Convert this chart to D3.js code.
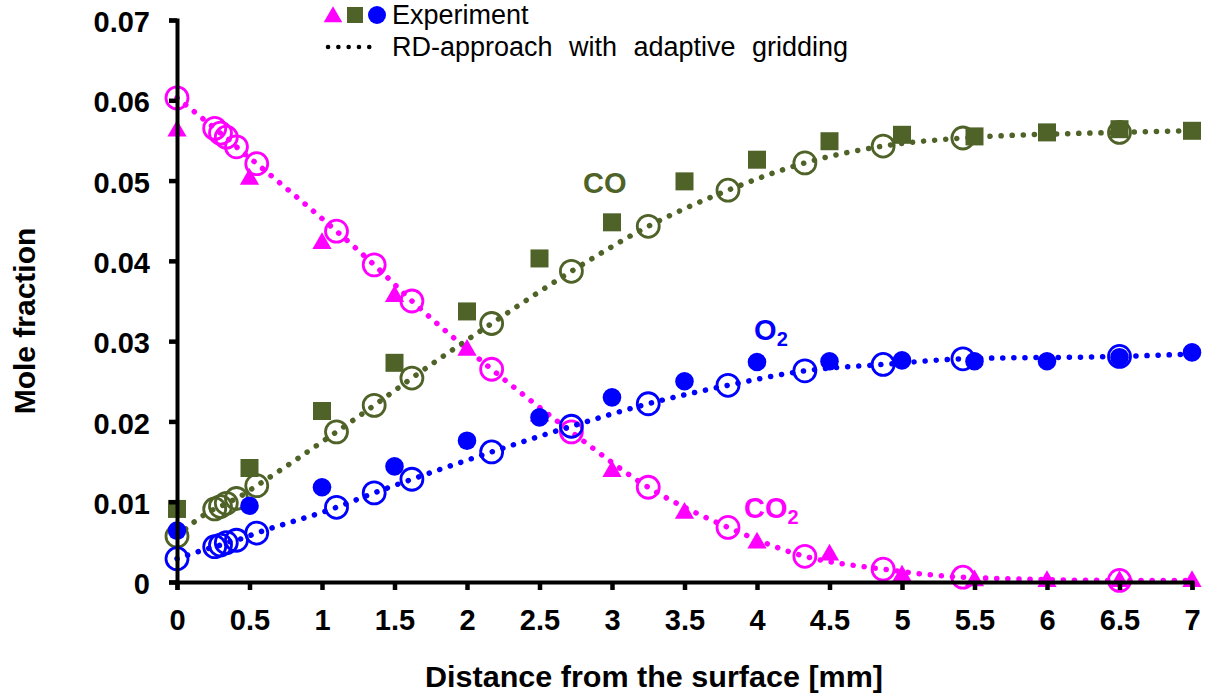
<!DOCTYPE html>
<html><head><meta charset="utf-8">
<script src="https://cdn.jsdelivr.net/npm/d3@7"></script>
<style>body{margin:0;background:#fff}svg{display:block}</style>
</head><body>
<script>
// ---- data ----
const expX = [0,0.5,1,1.5,2,2.5,3,3.5,4,4.5,5,5.5,6,6.5,7];
const expCO2 = [0.0563,0.0503,0.0423,0.0357,0.0290,0.0208,0.0139,0.0087,0.0050,0.0035,0.0009,0.0003,0.0002,0.0002,0.0002];
const expCO  = [0.0091,0.0142,0.0213,0.0273,0.0337,0.0403,0.0448,0.0499,0.0526,0.0549,0.0557,0.0555,0.0560,0.0564,0.0562];
const expO2  = [0.0064,0.0095,0.0118,0.0144,0.0176,0.0205,0.0230,0.0250,0.0274,0.0275,0.0276,0.0275,0.0275,0.0280,0.0286];

const modX   = [0,0.26,0.30,0.34,0.41,0.55,1.10,1.36,1.62,2.17,2.72,3.25,3.80,4.33,4.87,5.42,6.50];
const modCO2 = [0.0603,0.0565,0.0559,0.0554,0.0542,0.0521,0.0437,0.0395,0.0350,0.0265,0.0187,0.0118,0.0068,0.0032,0.0016,0.0006,0.0002];
const modCO  = [0.0057,0.0091,0.0094,0.0098,0.0104,0.0120,0.0187,0.0220,0.0254,0.0322,0.0387,0.0443,0.0488,0.0522,0.0543,0.0553,0.0560];
const modO2  = [0.0029,0.0044,0.0046,0.0049,0.0052,0.0061,0.0093,0.0111,0.0128,0.0162,0.0194,0.0222,0.0245,0.0263,0.0271,0.0278,0.0281];
// model curve end at x = 7
const endX = 7;
const endCO2 = 0.0002, endCO = 0.0562, endO2 = 0.0284;

const xTicks = [0,0.5,1,1.5,2,2.5,3,3.5,4,4.5,5,5.5,6,6.5,7];
const xTickLabels = ["0","0.5","1","1.5","2","2.5","3","3.5","4","4.5","5","5.5","6","6.5","7"];
const yTicks = [0,0.01,0.02,0.03,0.04,0.05,0.06,0.07];
const yTickLabels = ["0","0.01","0.02","0.03","0.04","0.05","0.06","0.07"];

const colCO2 = "#FF00FF", colCO = "#4F6228", colO2 = "#0000FF";

// ---- chart ----
const W = 1209, H = 700;
const svg = d3.select("body").append("svg").attr("width", W).attr("height", H);
const x = d3.scaleLinear().domain([0,7]).range([177,1192]);
const y = d3.scaleLinear().domain([0,0.07]).range([582,20]);
const font = "'Liberation Sans', Arial, sans-serif";

// model dotted lines
const line = d3.line().x(d=>x(d[0])).y(d=>y(d[1])).curve(d3.curveMonotoneX);
function modelSeries(vals, end, col){
  const pts = modX.map((v,i)=>[v, vals[i]]).concat([[endX, end]]);
  svg.append("path").attr("d", line(pts)).attr("fill","none").attr("stroke",col)
    .attr("stroke-width",5.5).attr("stroke-linecap","round").attr("stroke-dasharray","0.1 11");
  svg.append("g").selectAll("circle").data(modX.map((v,i)=>[v, vals[i]])).join("circle")
    .attr("cx",d=>x(d[0])).attr("cy",d=>y(d[1])).attr("r",11)
    .attr("fill","none").attr("stroke",col).attr("stroke-width",2.8);
}
modelSeries(modCO2, endCO2, colCO2);
modelSeries(modCO, endCO, colCO);
modelSeries(modO2, endO2, colO2);

// experiments
const tri = d3.symbol().type(d3.symbolTriangle).size(160);
svg.append("g").selectAll("path").data(expX.map((v,i)=>[v, expCO2[i]])).join("path")
  .attr("d", tri).attr("transform", d=>`translate(${x(d[0])},${y(d[1])+1})`).attr("fill", colCO2);
svg.append("g").selectAll("rect").data(expX.map((v,i)=>[v, expCO[i]])).join("rect")
  .attr("x", d=>x(d[0])-9).attr("y", d=>y(d[1])-9).attr("width",18).attr("height",18).attr("fill", colCO);
svg.append("g").selectAll("circle").data(expX.map((v,i)=>[v, expO2[i]])).join("circle")
  .attr("cx", d=>x(d[0])).attr("cy", d=>y(d[1])).attr("r",9.3).attr("fill", colO2);

// axes
const xAxis = d3.axisBottom(x).tickValues(xTicks).tickFormat((d,i)=>xTickLabels[i]).tickSize(8).tickPadding(19);
const yAxis = d3.axisLeft(y).tickValues(yTicks).tickFormat((d,i)=>yTickLabels[i]).tickSize(8).tickPadding(19);
const gx = svg.append("g").attr("transform","translate(0,582)").call(xAxis);
const gy = svg.append("g").attr("transform","translate(177,0)").call(yAxis);
[gx, gy].forEach(g=>{
  g.select(".domain").attr("stroke","#000").attr("stroke-width",4);
  g.selectAll(".tick line").attr("stroke","#000").attr("stroke-width",4.5);
  g.selectAll(".tick text").attr("font-family",font).attr("font-weight","bold").attr("font-size",29).attr("fill","#000");
});
gy.selectAll(".tick text").attr("dy","0.4em");

// axis titles
svg.append("text").attr("x",654).attr("y",687).attr("text-anchor","middle")
  .attr("font-family",font).attr("font-weight","bold").attr("font-size",29)
  .attr("textLength",458).attr("lengthAdjust","spacingAndGlyphs")
  .text("Distance from the surface [mm]");
svg.append("text").attr("transform","translate(35,321) rotate(-90)").attr("text-anchor","middle")
  .attr("font-family",font).attr("font-weight","bold").attr("font-size",30)
  .text("Mole fraction");

// species labels
function label(xp, yp, base, sub, col){
  const t = svg.append("text").attr("x", xp).attr("y", yp).attr("font-family",font)
    .attr("font-weight","bold").attr("font-size",29).attr("fill",col).text(base);
  if (sub) t.append("tspan").attr("font-size",20).attr("dy",6).text(sub);
}
label(x(2.8), y(0.0485), "CO", null, colCO);
label(x(3.98), y(0.0302), "O", "2", colO2);
label(x(3.91), y(0.0080), "CO", "2", colCO2);

// legend
const lg = svg.append("g");
lg.append("path").attr("d", d3.symbol().type(d3.symbolTriangle).size(150))
  .attr("transform","translate(333,17)").attr("fill",colCO2);
lg.append("rect").attr("x",347).attr("y",7).attr("width",16).attr("height",16).attr("fill",colCO);
lg.append("circle").attr("cx",377).attr("cy",15).attr("r",9).attr("fill",colO2);
lg.append("text").attr("x",392).attr("y",24).attr("font-family",font).attr("font-size",27).text("Experiment");
lg.append("line").attr("x1",328).attr("x2",379).attr("y1",47).attr("y2",47).attr("stroke","#000")
  .attr("stroke-width",4.5).attr("stroke-linecap","round").attr("stroke-dasharray","0.1 10.2");
const rd = lg.append("text").attr("x",392).attr("y",56).attr("font-family",font).attr("font-size",27)
  .text("RD-approach with adaptive gridding");
const len = rd.node().getComputedTextLength();
rd.attr("word-spacing", Math.max(0, (456 - len) / 3) + "px");
</script>
</body></html>
